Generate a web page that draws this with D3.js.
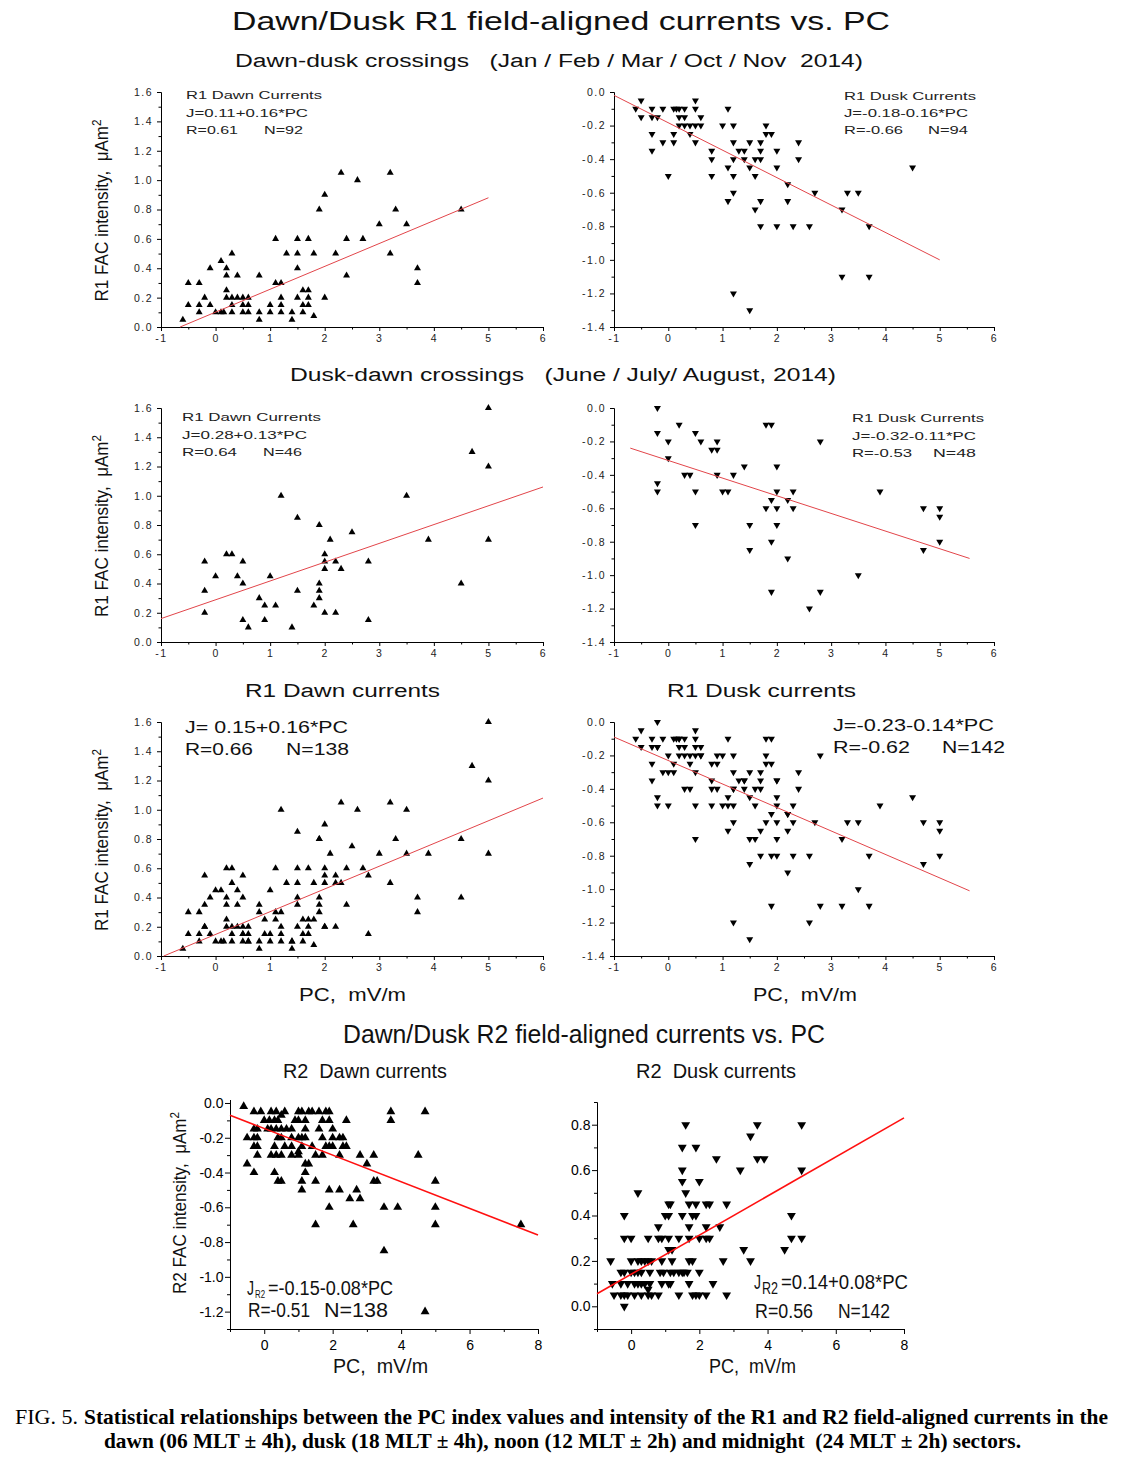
<!DOCTYPE html>
<html>
<head>
<meta charset="utf-8">
<script src="https://cdn.jsdelivr.net/npm/d3@7"></script>
<style>
  body { margin: 0; background: #fff; }
  svg text { font-family: "Liberation Sans", Arial, sans-serif; white-space: pre; }
</style>
</head>
<body>
<svg id="fig" width="1124" height="1475"></svg>
<script>
// ---- data: [PC, J] ----
// R1 dawn, dawn-dusk crossings (Jan/Feb/Mar/Oct/Nov)
const dawnWinter = [[-0.6,0.05],[-0.5,0.3],[-0.5,0.15],[-0.3,0.3],[-0.3,0.15],[-0.3,0.1],[-0.2,0.2],[-0.1,0.4],[-0.1,0.15],[0,0.1],
  [0.1,0.45],[0.1,0.1],[0.15,0.1],[0.2,0.4],[0.2,0.35],[0.2,0.25],[0.2,0.2],[0.3,0.5],[0.3,0.2],[0.3,0.15],[0.3,0.1],[0.4,0.35],
  [0.4,0.2],[0.5,0.2],[0.5,0.15],[0.5,0.1],[0.6,0.2],[0.6,0.15],[0.6,0.1],[0.8,0.35],[0.8,0.1],[0.8,0.05],[1,0.15],[1,0.1],
  [1.1,0.6],[1.1,0.3],[1.2,0.3],[1.2,0.2],[1.2,0.15],[1.2,0.1],[1.3,0.5],[1.4,0.1],[1.4,0.05],[1.5,0.6],[1.5,0.5],[1.5,0.4],
  [1.5,0.2],[1.6,0.25],[1.6,0.15],[1.6,0.1],[1.7,0.6],[1.7,0.25],[1.7,0.2],[1.7,0.15],[1.8,0.5],[1.8,0.075],[1.9,0.8],[2,0.9],
  [2,0.2],[2.2,0.5],[2.3,1.05],[2.4,0.6],[2.4,0.35],[2.6,1.0],[2.7,0.6],[3,0.7],[3.2,1.05],[3.2,0.5],[3.3,0.8],[3.5,0.7],
  [3.7,0.4],[3.7,0.3],[4.5,0.8]];
// R1 dusk, dawn-dusk crossings
const duskWinter = [[-0.6,-0.1],[-0.5,-0.05],[-0.5,-0.15],[-0.3,-0.1],[-0.3,-0.15],[-0.3,-0.25],[-0.3,-0.35],[-0.2,-0.15],
  [-0.1,-0.1],[-0.1,-0.3],[0,-0.5],[0.1,-0.1],[0.1,-0.25],[0.1,-0.3],[0.15,-0.1],[0.2,-0.1],[0.2,-0.15],[0.2,-0.2],[0.3,-0.1],
  [0.3,-0.15],[0.3,-0.2],[0.4,-0.2],[0.4,-0.25],[0.5,-0.05],[0.5,-0.1],[0.5,-0.2],[0.5,-0.3],[0.6,-0.15],[0.6,-0.2],[0.8,-0.35],
  [0.8,-0.4],[0.8,-0.5],[1,-0.2],[1.1,-0.1],[1.1,-0.45],[1.1,-0.65],[1.2,-0.2],[1.2,-0.3],[1.2,-0.4],[1.2,-0.5],[1.2,-0.6],
  [1.2,-1.2],[1.3,-0.35],[1.4,-0.35],[1.4,-0.4],[1.5,-0.3],[1.5,-0.45],[1.5,-1.3],[1.6,-0.4],[1.6,-0.5],[1.6,-0.7],[1.7,-0.3],
  [1.7,-0.35],[1.7,-0.4],[1.7,-0.65],[1.7,-0.8],[1.8,-0.2],[1.8,-0.25],[1.9,-0.25],[2,-0.35],[2,-0.45],[2,-0.8],[2.2,-0.55],
  [2.2,-0.65],[2.3,-0.8],[2.4,-0.3],[2.4,-0.4],[2.6,-0.8],[2.7,-0.6],[3.2,-0.7],[3.2,-1.1],[3.3,-0.6],[3.5,-0.6],[3.7,-0.8],
  [3.7,-1.1],[4.5,-0.45]];
// R1 dawn, dusk-dawn crossings (June/July/August)
const dawnSummer = [[-0.2,0.55],[-0.2,0.35],[-0.2,0.2],[0,0.45],[0.2,0.6],[0.3,0.6],[0.4,0.45],[0.5,0.55],[0.5,0.4],[0.5,0.15],
  [0.6,0.1],[0.8,0.3],[0.9,0.25],[0.9,0.15],[1,0.45],[1.1,0.25],[1.2,1.0],[1.4,0.1],[1.5,0.85],[1.5,0.35],[1.8,0.25],[1.9,0.8],
  [1.9,0.4],[1.9,0.35],[1.9,0.3],[2,0.6],[2,0.55],[2,0.5],[2,0.2],[2.1,0.7],[2.2,0.55],[2.2,0.2],[2.3,0.5],[2.5,0.75],[2.8,0.55],
  [2.8,0.15],[3.5,1.0],[3.9,0.7],[4.5,0.4],[4.7,1.3],[5,1.6],[5,1.2],[5,0.7]];
// R1 dusk, dusk-dawn crossings
const duskSummer = [[-0.2,0],[-0.2,-0.15],[-0.2,-0.45],[-0.2,-0.5],[0,-0.2],[0,-0.3],[0.2,-0.1],[0.3,-0.4],[0.4,-0.4],[0.5,-0.15],
  [0.5,-0.5],[0.5,-0.7],[0.6,-0.2],[0.8,-0.25],[0.9,-0.2],[0.9,-0.25],[0.9,-0.4],[1,-0.5],[1.1,-0.5],[1.2,-0.4],[1.4,-0.35],
  [1.5,-0.7],[1.5,-0.85],[1.8,-0.1],[1.8,-0.6],[1.9,-0.1],[1.9,-0.55],[1.9,-0.8],[1.9,-1.1],[2,-0.35],[2,-0.5],[2,-0.6],[2,-0.7],
  [2.2,-0.55],[2.2,-0.9],[2.3,-0.5],[2.3,-0.6],[2.6,-1.2],[2.8,-0.2],[2.8,-1.1],[3.5,-1.0],[3.9,-0.5],[4.7,-0.6],[4.7,-0.85],
  [5,-0.6],[5,-0.65],[5,-0.8]];
// R2 dawn, all crossings
const r2Dawn = [[-0.6,-0.02],
  [-0.3,-0.05],[-0.1,-0.05],[0.2,-0.05],[0.35,-0.05],[0.6,-0.05],[1.0,-0.05],[1.1,-0.05],[1.3,-0.05],[1.4,-0.05],[1.6,-0.05],
  [1.8,-0.05],[1.9,-0.05],[3.7,-0.05],[4.7,-0.05],[0.5,-0.07],
  [0,-0.1],[0.15,-0.1],[0.3,-0.1],[0.4,-0.1],[0.9,-0.1],[1.0,-0.1],[1.2,-0.1],[1.7,-0.1],[1.9,-0.1],[2.4,-0.1],[3.7,-0.1],
  [-0.3,-0.15],[-0.2,-0.15],[0.1,-0.15],[0.2,-0.15],[0.35,-0.15],[0.5,-0.15],[0.65,-0.15],[0.8,-0.15],[1.2,-0.15],[1.6,-0.15],[2.0,-0.15],
  [-0.5,-0.2],[-0.3,-0.2],[-0.2,-0.2],[0.4,-0.2],[0.5,-0.2],[0.8,-0.2],[1.0,-0.2],[1.1,-0.2],[1.2,-0.2],[1.7,-0.2],[2.0,-0.2],[2.2,-0.2],[2.3,-0.2],
  [-0.3,-0.25],[-0.2,-0.25],[0.3,-0.25],[0.6,-0.25],[0.8,-0.25],[1.1,-0.25],[1.4,-0.25],[1.8,-0.25],[1.9,-0.25],[2.0,-0.25],[2.3,-0.25],[2.4,-0.25],
  [1.0,-0.28],[-0.2,-0.3],[0.2,-0.3],[0.35,-0.3],[0.5,-0.3],[0.8,-0.3],[1.0,-0.3],[1.5,-0.3],[1.7,-0.3],[2.2,-0.3],[2.8,-0.3],[3.2,-0.3],[4.5,-0.3],
  [-0.5,-0.35],[1.2,-0.35],[1.3,-0.35],[3.0,-0.35],
  [-0.3,-0.4],[0.3,-0.4],[1.2,-0.4],
  [0.4,-0.45],[0.5,-0.45],[1.1,-0.45],[1.5,-0.45],[3.2,-0.45],[3.3,-0.45],[5.0,-0.45],
  [1.1,-0.5],[1.9,-0.5],[2.2,-0.5],[2.7,-0.5],[2.5,-0.55],[2.8,-0.55],
  [1.9,-0.6],[3.5,-0.6],[3.9,-0.6],[5.0,-0.6],
  [1.5,-0.7],[2.6,-0.7],[5.0,-0.7],[7.5,-0.7],[3.5,-0.85],[4.7,-1.2]];
// R2 dusk, all crossings
const r2Dusk = [[1.6,0.8],[3.7,0.8],[5.0,0.8],[3.5,0.75],[1.5,0.7],[1.9,0.7],[2.5,0.65],[3.7,0.65],[3.9,0.65],
  [1.5,0.6],[3.2,0.6],[5.0,0.6],[1.5,0.55],[2.0,0.55],[0.2,0.5],[1.6,0.5],
  [1.1,0.45],[1.15,0.45],[1.7,0.45],[1.9,0.45],[2.2,0.45],[2.3,0.45],[2.8,0.45],
  [-0.2,0.4],[1.0,0.4],[1.1,0.4],[1.5,0.4],[1.8,0.4],[1.9,0.4],[4.7,0.4],
  [0.8,0.35],[1.7,0.35],[2.2,0.35],[2.6,0.35],
  [-0.2,0.3],[0,0.3],[0.5,0.3],[0.8,0.3],[0.9,0.3],[1.1,0.3],[1.4,0.3],[1.7,0.3],[2.0,0.3],[2.2,0.3],[2.3,0.3],[4.7,0.3],[5.0,0.3],
  [1.1,0.25],[1.2,0.25],[3.3,0.25],[4.5,0.25],
  [-0.6,0.2],[0,0.2],[0.2,0.2],[0.3,0.2],[0.4,0.2],[0.5,0.2],[0.6,0.2],[0.9,0.2],[1.2,0.2],[1.7,0.2],[1.8,0.2],[2.7,0.2],[3.5,0.2],
  [-0.3,0.15],[-0.2,0.15],[0,0.15],[0.1,0.15],[0.2,0.15],[0.3,0.15],[0.55,0.15],[0.85,0.15],[0.95,0.15],[1.15,0.15],[1.25,0.15],
  [1.4,0.15],[1.5,0.15],[1.55,0.15],[1.65,0.15],[2.0,0.15],
  [-0.55,0.1],[-0.3,0.1],[-0.1,0.1],[0.1,0.1],[0.2,0.1],[0.3,0.1],[0.4,0.1],[0.55,0.1],[0.9,0.1],[1.1,0.1],[1.15,0.1],[1.7,0.1],[2.4,0.1],
  [0.5,0.075],
  [-0.5,0.05],[-0.3,0.05],[-0.2,0.05],[-0.1,0.05],[0.1,0.05],[0.3,0.05],[0.5,0.05],[0.6,0.05],[0.8,0.05],[1.4,0.05],[1.8,0.05],
  [1.9,0.05],[2.0,0.05],[2.2,0.05],[2.8,0.05],
  [-0.2,0]];

// regression lines as drawn: [[PC start, J start], [PC end, J end]]
const fitDawnWinter = [[-0.65, 0.0], [5, 0.88]];
const fitDuskWinter = [[-1, -0.02], [5, -1.0]];
const fitDawnSummer = [[-1, 0.16], [6, 1.06]];
const fitDuskSummer = [[-0.7, -0.24], [5.55, -0.9]];
const fitDawnAll = [[-0.95, 0.0], [6, 1.08]];
const fitDuskAll = [[-1, -0.09], [5.55, -1.01]];
const fitR2Dawn = [[-1, -0.07], [8, -0.76]];
const fitR2Dusk = [[-1, 0.055], [8, 0.83]];

// tick values
const r1XMajor = d3.range(-1, 7);
const r1XMinor = d3.range(-0.5, 6, 1);
const r1DawnYMajor = d3.range(0, 9).map(i => i * 0.2);
const r1DawnYMinor = d3.range(1, 16, 2).map(i => i / 10);
const r1DuskYMajor = d3.range(0, 8).map(i => -i * 0.2);
const r1DuskYMinor = d3.range(1, 14, 2).map(i => -i / 10);
const r2XMajor = [0, 2, 4, 6, 8];
const r2XMinor = [-1, 1, 3, 5, 7];
const r2DawnYMajor = d3.range(0, 7).map(i => -i * 0.2);
const r2DawnYMinor = d3.range(1, 14, 2).map(i => -i / 10);
const r2DuskYMajor = d3.range(0, 5).map(i => i * 0.2);
const r2DuskYMinor = [-1, 1, 3, 5, 7, 9].map(i => i / 10);

const svg = d3.select('#fig');

const r1Style = { major: 4, minor: 2.5, xPad: 4, yPad: 4, font: 10.5, spacing: '1.5px', color: '#222',
  marker: 21, line: '#e2454a', lineWidth: 1 };
const r2Style = { major: 5, minor: 3, xPad: 6, yPad: 1.5, font: 14, spacing: '0px', color: '#000',
  marker: 34, line: '#ff1010', lineWidth: 1.6 };

const fmtY = v => (Math.abs(v) < 1e-9 ? 0 : v).toFixed(1);
const fmtX = v => String(v);

function drawPanel(p) {
  const s = p.style;
  const x = d3.scaleLinear().domain(p.xDomain).range([p.left, p.right]);
  const y = d3.scaleLinear().domain(p.yDomain).range([p.bottom, p.top]);
  const g = svg.append('g');

  const axis = (a, vals, len, fmt, pad) => a.tickValues(vals).tickSize(len).tickSizeOuter(0).tickPadding(pad).tickFormat(fmt);

  g.append('g').attr('transform', `translate(0,${p.bottom})`)
    .call(axis(d3.axisBottom(x), p.xMinor, s.minor, '', 0));
  g.append('g').attr('transform', `translate(0,${p.bottom})`)
    .call(axis(d3.axisBottom(x), p.xMajor, s.major, fmtX, s.xPad));
  g.append('g').attr('transform', `translate(${p.left},0)`)
    .call(axis(d3.axisLeft(y), p.yMinor, s.minor, '', 0));
  g.append('g').attr('transform', `translate(${p.left},0)`)
    .call(axis(d3.axisLeft(y), p.yMajor, s.major, fmtY, s.yPad));

  g.selectAll('.domain, .tick line').attr('stroke', '#000');
  g.selectAll('text')
    .attr('font-size', s.font)
    .attr('fill', s.color)
    .style('letter-spacing', s.spacing);

  const sym = d3.symbol().type(d3.symbolTriangle).size(s.marker);
  g.append('g').selectAll('path').data(p.data).join('path')
    .attr('d', sym)
    .attr('fill', '#000')
    .attr('transform', d => `translate(${x(d[0])},${y(d[1])})${p.up ? '' : ' rotate(180)'}`);

  g.append('line')
    .attr('x1', x(p.fit[0][0])).attr('y1', y(p.fit[0][1]))
    .attr('x2', x(p.fit[1][0])).attr('y2', y(p.fit[1][1]))
    .attr('stroke', s.line).attr('stroke-width', s.lineWidth);
}

const r1Rows = [[92, 327], [408, 642], [722, 956]];
const r1Panels = [
  { data: dawnWinter, fit: fitDawnWinter, row: 0, dusk: false },
  { data: duskWinter, fit: fitDuskWinter, row: 0, dusk: true },
  { data: dawnSummer, fit: fitDawnSummer, row: 1, dusk: false },
  { data: duskSummer, fit: fitDuskSummer, row: 1, dusk: true },
  { data: dawnWinter.concat(dawnSummer), fit: fitDawnAll, row: 2, dusk: false },
  { data: duskWinter.concat(duskSummer), fit: fitDuskAll, row: 2, dusk: true }
];

r1Panels.forEach(p => drawPanel({
  data: p.data, fit: p.fit, style: r1Style, up: !p.dusk,
  left: p.dusk ? 614 : 161, right: p.dusk ? 994 : 543,
  top: r1Rows[p.row][0], bottom: r1Rows[p.row][1],
  xDomain: [-1, 6], xMajor: r1XMajor, xMinor: r1XMinor,
  yDomain: p.dusk ? [-1.4, 0] : [0, 1.6],
  yMajor: p.dusk ? r1DuskYMajor : r1DawnYMajor,
  yMinor: p.dusk ? r1DuskYMinor : r1DawnYMinor
}));

drawPanel({ data: r2Dawn, fit: fitR2Dawn, style: r2Style, up: true,
  left: 230, right: 538, top: 1099.5, bottom: 1329,
  xDomain: [-1, 8], xMajor: r2XMajor, xMinor: r2XMinor,
  yDomain: [-1.3, 0.02], yMajor: r2DawnYMajor, yMinor: r2DawnYMinor });

drawPanel({ data: r2Dusk, fit: fitR2Dusk, style: r2Style, up: false,
  left: 597, right: 904, top: 1102, bottom: 1329,
  xDomain: [-1, 8], xMajor: r2XMajor, xMinor: r2XMinor,
  yDomain: [-0.1, 0.9], yMajor: r2DuskYMajor, yMinor: r2DuskYMinor });

// ---- text ----
function label(x, y, str, size, len, fill = '#111') {
  const t = svg.append('text').attr('x', x).attr('y', y)
    .attr('font-size', size).attr('fill', fill).text(str);
  if (len) t.attr('textLength', len).attr('lengthAdjust', 'spacingAndGlyphs');
  return t;
}

label(232, 30, 'Dawn/Dusk R1 field-aligned currents vs. PC', 26, 658);
label(235, 67, 'Dawn-dusk crossings   (Jan / Feb / Mar / Oct / Nov  2014)', 18, 628);
label(290, 381, 'Dusk-dawn crossings   (June / July/ August, 2014)', 18, 546);
label(245, 697, 'R1 Dawn currents', 18, 195);
label(667, 697, 'R1 Dusk currents', 18, 189);
label(299, 1001, 'PC,  mV/m', 18, 107);
label(753, 1001, 'PC,  mV/m', 18, 104);

// panel annotations (R1)
const ann = '#222';
label(186, 99, 'R1 Dawn Currents', 10.5, 136, ann);
label(186, 117, 'J=0.11+0.16*PC', 10.5, 122, ann);
label(186, 134, 'R=0.61', 10.5, 52, ann);
label(264, 134, 'N=92', 10.5, 39, ann);

label(844, 100, 'R1 Dusk Currents', 10.5, 132, ann);
label(844, 117, 'J=-0.18-0.16*PC', 10.5, 124, ann);
label(844, 134, 'R=-0.66', 10.5, 59, ann);
label(928, 134, 'N=94', 10.5, 40, ann);

label(182, 421, 'R1 Dawn Currents', 10.5, 139, ann);
label(182, 439, 'J=0.28+0.13*PC', 10.5, 125, ann);
label(182, 456, 'R=0.64', 10.5, 55, ann);
label(263, 456, 'N=46', 10.5, 39, ann);

label(852, 422, 'R1 Dusk Currents', 10.5, 132, ann);
label(852, 440, 'J=-0.32-0.11*PC', 10.5, 124, ann);
label(852, 457, 'R=-0.53', 10.5, 60, ann);
label(933, 457, 'N=48', 10.5, 43, ann);

label(185, 733, 'J= 0.15+0.16*PC', 17, 163, '#111');
label(185, 755, 'R=0.66', 17, 68, '#111');
label(286, 755, 'N=138', 17, 63, '#111');

label(833, 731, 'J=-0.23-0.14*PC', 17, 161, '#111');
label(833, 753, 'R=-0.62', 17, 77, '#111');
label(942, 753, 'N=142', 17, 63, '#111');

// y-axis titles
function yTitle(x, cy, prefix) {
  const t = svg.append('text')
    .attr('transform', `translate(${x},${cy}) rotate(-90) scale(0.9,1)`)
    .attr('text-anchor', 'middle').attr('font-size', 19).attr('fill', '#111');
  t.append('tspan').text(prefix + ' FAC intensity,  \u03bcAm');
  t.append('tspan').attr('dy', '-0.55em').attr('font-size', 13).text('2');
}
r1Rows.forEach(r => yTitle(108, (r[0] + r[1]) / 2 + 1, 'R1'));
yTitle(186, 1203, 'R2');

// R2 block
label(343, 1043, 'Dawn/Dusk R2 field-aligned currents vs. PC', 25, 482);
label(283, 1078, 'R2  Dawn currents', 20, 164);
label(636, 1078, 'R2  Dusk currents', 20, 160);
label(333, 1373, 'PC,  mV/m', 20, 95);
label(709, 1373, 'PC,  mV/m', 20, 87);

label(247, 1295, 'J', 20, 7);
label(255, 1298, 'R2', 11, 10);
label(268, 1295, '=-0.15-0.08*PC', 20, 125);
label(248, 1317, 'R=-0.51', 20, 62);
label(324, 1317, 'N=138', 20, 64);

label(754, 1289, 'J', 20, 7);
label(762, 1293.5, 'R2', 16, 16);
label(781, 1289, '=0.14+0.08*PC', 20, 127);
label(755, 1318, 'R=0.56', 20, 58);
label(838, 1318, 'N=142', 20, 52);

// caption
const serif = '"Liberation Serif", "Times New Roman", serif';
label(15, 1424, 'FIG. 5.', 21, 63, '#000').style('font-family', serif);
label(84, 1424, 'Statistical relationships between the PC index values and intensity of the R1 and R2 field-aligned currents in the',
  21, 1024, '#000').style('font-family', serif).attr('font-weight', 'bold');
label(104, 1448, 'dawn (06 MLT \u00b1 4h), dusk (18 MLT \u00b1 4h), noon (12 MLT \u00b1 2h) and midnight  (24 MLT \u00b1 2h) sectors.',
  21, 917, '#000').style('font-family', serif).attr('font-weight', 'bold');
</script>
</body>
</html>
